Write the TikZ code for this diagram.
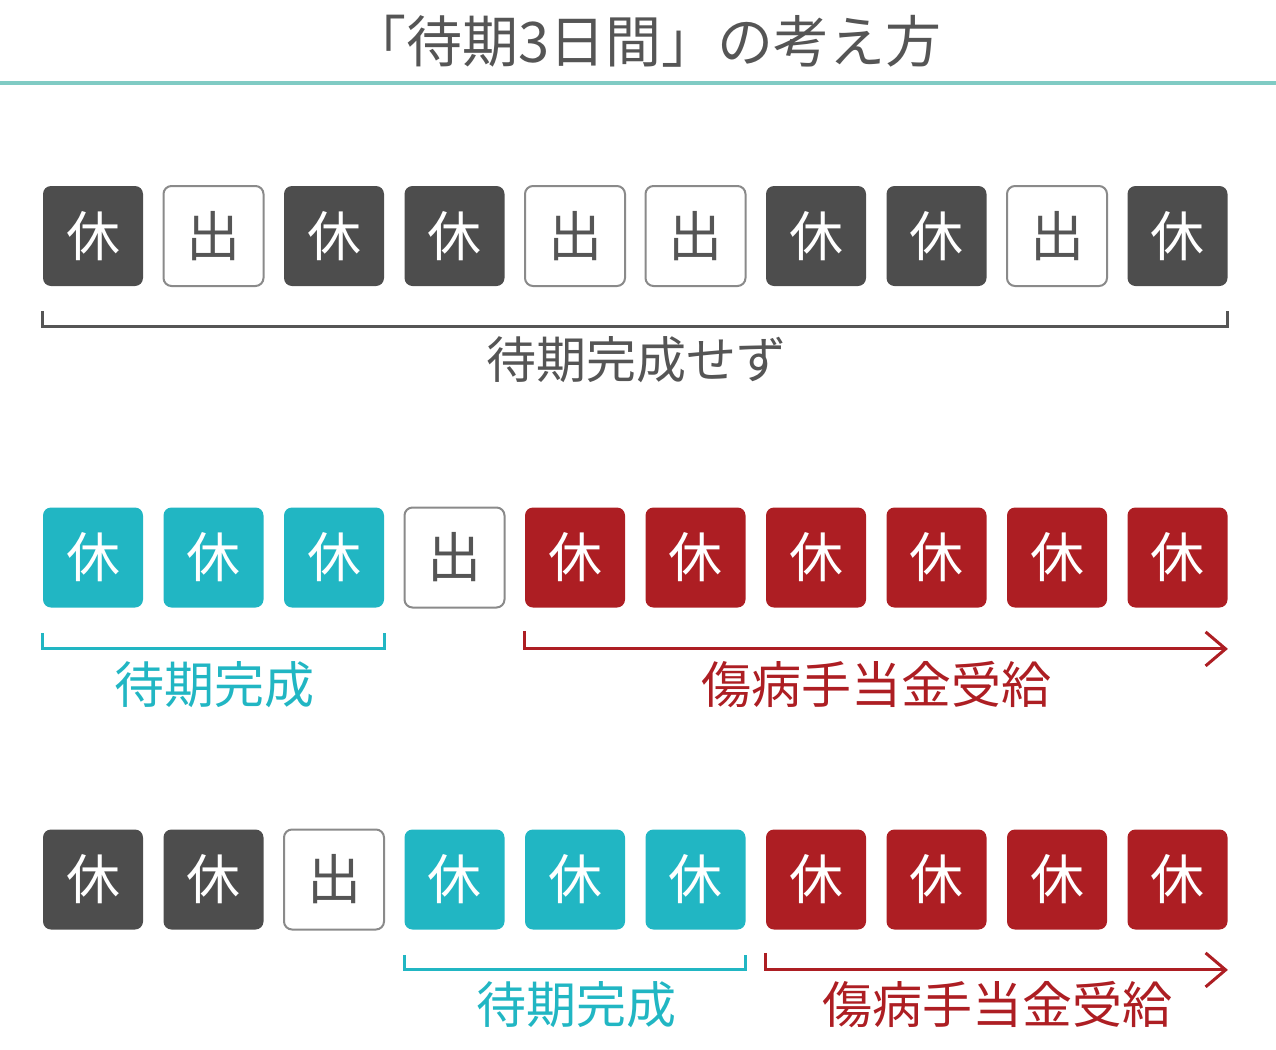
\documentclass[tikz,border=0pt]{standalone}
\usepackage{fontspec}
\setmainfont{Noto Sans CJK JP}
\usetikzlibrary{arrows.meta}
\definecolor{kuro}{HTML}{4D4D4D}
\definecolor{moji}{HTML}{555555}
\definecolor{waku}{HTML}{8A8A8A}
\definecolor{ao}{HTML}{21B6C3}
\definecolor{aka}{HTML}{AD1E23}
\definecolor{sen}{HTML}{80CBC4}
\tikzset{
	hibox/.style={minimum size=50pt, inner sep=0pt, rounded corners=4pt, font=\fontsize{27}{27}\selectfont},
	yasumi/.style={hibox, fill=kuro, text=white},
	shukkin/.style={hibox, draw=waku, line width=1pt, fill=white, text=moji},
	taiki/.style={hibox, fill=ao, text=white},
	kyufu/.style={hibox, fill=aka, text=white},
	kakko/.style={line width=1.5pt},
	yajirushi/.style={line width=1.5pt, -{Straight Barb[length=10pt, width=17pt, line width=1.5pt]}},
	setsumei/.style={font=\fontsize{25}{25}\selectfont, inner sep=0pt}
}
\begin{document}
\begin{tikzpicture}[x=0.5pt, y=-0.5pt]
	\useasboundingbox (0, 0) rectangle (1276, 1050);
	% Title and rule:
	\node[font=\fontsize{28}{28}\selectfont, text=moji, inner sep=0pt] (title) at (646, 41){「待期3日間」の考え方};
	\draw[sen, line width=2pt] (0, 83) -- (1276, 83);
	% First row:
	\node[yasumi] (a1) at (93, 236){休};
	\node[shukkin] (a2) at (213.5, 236){出};
	\node[yasumi] (a3) at (334, 236){休};
	\node[yasumi] (a4) at (454.5, 236){休};
	\node[shukkin] (a5) at (575, 236){出};
	\node[shukkin] (a6) at (695.5, 236){出};
	\node[yasumi] (a7) at (816, 236){休};
	\node[yasumi] (a8) at (936.5, 236){休};
	\node[shukkin] (a9) at (1057, 236){出};
	\node[yasumi] (a10) at (1177.5, 236){休};
	\draw[kakko, moji] ([yshift=-12.5pt]a1.south west) -- ([yshift=-20pt]a1.south west) -- ([yshift=-20pt]a10.south east) -- ([yshift=-12.5pt]a10.south east);
	\node[setsumei, text=moji] (mikansei) at (636, 360){待期完成せず};
	% Second row:
	\node[taiki] (b1) at (93, 557.5){休};
	\node[taiki] (b2) at (213.5, 557.5){休};
	\node[taiki] (b3) at (334, 557.5){休};
	\node[shukkin] (b4) at (454.5, 557.5){出};
	\node[kyufu] (b5) at (575, 557.5){休};
	\node[kyufu] (b6) at (695.5, 557.5){休};
	\node[kyufu] (b7) at (816, 557.5){休};
	\node[kyufu] (b8) at (936.5, 557.5){休};
	\node[kyufu] (b9) at (1057, 557.5){休};
	\node[kyufu] (b10) at (1177.5, 557.5){休};
	\draw[kakko, ao] ([yshift=-12.5pt]b1.south west) -- ([yshift=-20.5pt]b1.south west) -- ([yshift=-20.5pt]b3.south east) -- ([yshift=-12.5pt]b3.south east);
	\draw[yajirushi, aka] ([yshift=-11.5pt]b5.south west) -- ([yshift=-20.5pt]b5.south west) -- ([yshift=-20.5pt]b10.south east);
	\node[setsumei, text=ao] (kansei1) at (214, 685){待期完成};
	\node[setsumei, text=aka] (jukyu1) at (876, 685){傷病手当金受給};
	% Third row:
	\node[yasumi] (c1) at (93, 879.5){休};
	\node[yasumi] (c2) at (213.5, 879.5){休};
	\node[shukkin] (c3) at (334, 879.5){出};
	\node[taiki] (c4) at (454.5, 879.5){休};
	\node[taiki] (c5) at (575, 879.5){休};
	\node[taiki] (c6) at (695.5, 879.5){休};
	\node[kyufu] (c7) at (816, 879.5){休};
	\node[kyufu] (c8) at (936.5, 879.5){休};
	\node[kyufu] (c9) at (1057, 879.5){休};
	\node[kyufu] (c10) at (1177.5, 879.5){休};
	\draw[kakko, ao] ([yshift=-12.5pt]c4.south west) -- ([yshift=-20pt]c4.south west) -- ([yshift=-20pt]c6.south east) -- ([yshift=-12.5pt]c6.south east);
	\draw[yajirushi, aka] ([yshift=-11.5pt]c7.south west) -- ([yshift=-20pt]c7.south west) -- ([yshift=-20pt]c10.south east);
	\node[setsumei, text=ao] (kansei2) at (576, 1005){待期完成};
	\node[setsumei, text=aka] (jukyu2) at (997, 1005){傷病手当金受給};
\end{tikzpicture}
\end{document}
